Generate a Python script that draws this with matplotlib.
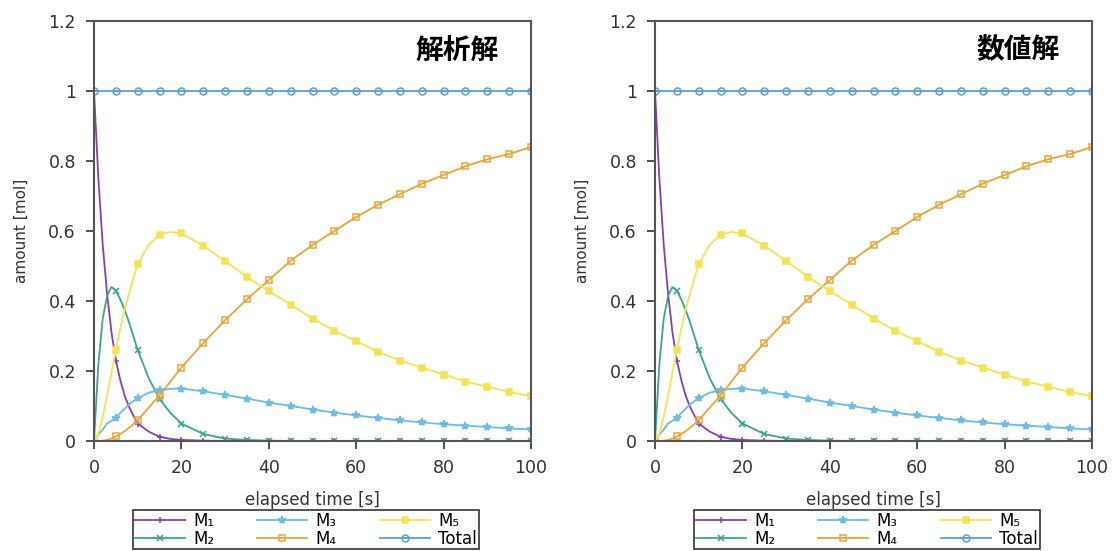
import matplotlib
matplotlib.use('Agg')
import matplotlib.pyplot as plt

# time points for the lines (denser at the start), markers every 5 s
t = [0, 1, 2, 3, 4, 5, 6, 7, 8, 9, 10, 12.5, 15, 17.5, 20, 25, 30, 35, 40, 45, 50,
     55, 60, 65, 70, 75, 80, 85, 90, 95, 100]

m1 = [1.0, 0.75, 0.56, 0.42, 0.31, 0.23, 0.175, 0.13, 0.098, 0.073, 0.05, 0.027, 0.012,
      0.006, 0.003, 0.001, 0, 0, 0, 0, 0, 0, 0, 0, 0, 0, 0, 0, 0, 0, 0]
m2 = [0, 0.22, 0.35, 0.415, 0.44, 0.43, 0.405, 0.375, 0.34, 0.30, 0.26, 0.18, 0.12,
      0.08, 0.05, 0.02, 0.007, 0.003, 0.001, 0, 0, 0, 0, 0, 0, 0, 0, 0, 0, 0, 0]
m3 = [0, 0.018, 0.033, 0.05, 0.058, 0.065, 0.08, 0.092, 0.104, 0.114, 0.122, 0.138, 0.145,
      0.149, 0.15, 0.142, 0.132, 0.121, 0.11, 0.10, 0.09, 0.081, 0.073, 0.066, 0.059,
      0.053, 0.048, 0.044, 0.04, 0.036, 0.033]
m4 = [0, 0, 0.001, 0.003, 0.007, 0.013, 0.02, 0.028, 0.038, 0.048, 0.06, 0.095, 0.13,
      0.17, 0.21, 0.28, 0.345, 0.405, 0.46, 0.515, 0.56, 0.60, 0.64, 0.675, 0.705,
      0.735, 0.76, 0.785, 0.805, 0.82, 0.84]
m5 = [0, 0.02, 0.07, 0.13, 0.195, 0.26, 0.32, 0.375, 0.42, 0.465, 0.505, 0.56, 0.59,
      0.597, 0.593, 0.558, 0.514, 0.469, 0.428, 0.39, 0.35, 0.315, 0.285, 0.255, 0.23,
      0.21, 0.19, 0.17, 0.155, 0.14, 0.128]
total = [1.0] * len(t)

panel_titles = ['解析解', '数値解']
labels = ['M₁', 'M₂', 'M₃', 'M₄', 'M₅', 'Total']
colors = ['#8a3fae', '#3aa886', '#6cbbe8', '#e9a43a', '#f2e255', '#5a9fd2']
markers = ['+', 'x', '*', 's', 's', 'o']
filled = [True, True, True, False, True, False]
series = [m1, m2, m3, m4, m5, total]

every5 = [i for i, v in enumerate(t) if v % 5 == 0]

fig = plt.figure(figsize=(11.14, 5.51), dpi=100)
lefts = [94 / 1114, 655 / 1114]

for left, title in zip(lefts, panel_titles):
    ax = fig.add_axes([left, 110 / 551, 437 / 1114, 420 / 551])
    for y, lab, c, mk, f in zip(series, labels, colors, markers, filled):
        ax.plot(t, y, color=c, lw=1.3, label=lab, marker=mk, markevery=every5,
                markersize=5 if mk != '*' else 6,
                markerfacecolor=c if f else 'none', markeredgecolor=c,
                markeredgewidth=1.1)
    ax.set_xlim(0, 100)
    ax.set_ylim(0, 1.2)
    ax.set_xticks([0, 20, 40, 60, 80, 100])
    ax.set_yticks([0, 0.2, 0.4, 0.6, 0.8, 1.0, 1.2])
    ax.set_yticklabels(['0', '0.2', '0.4', '0.6', '0.8', '1', '1.2'])
    ax.tick_params(direction='out', length=6, width=1.2, labelsize=12.5, pad=7,
                   colors='#333333')
    for s in ax.spines.values():
        s.set_color('#555555')
        s.set_linewidth(1.5)
    ax.set_xlabel('elapsed time [s]', fontsize=12, labelpad=10, color='#333333')
    ax.set_ylabel('amount [mol]', fontsize=11, labelpad=14, color='#333333')
    ax.text(0.83, 0.93, title, transform=ax.transAxes, ha='center', va='center',
            fontsize=20, fontweight='bold', family=['Noto Sans CJK JP', 'DejaVu Sans'])
    leg = ax.legend(loc='upper center', bbox_to_anchor=(0.485, -0.164), ncol=3,
                    fontsize=12, frameon=True, fancybox=False, framealpha=1,
                    handlelength=3.0, columnspacing=2.6, handletextpad=0.5,
                    borderpad=0.1, labelspacing=0.0, borderaxespad=0)
    leg.get_frame().set_edgecolor('#333333')
    leg.get_frame().set_linewidth(1.2)

fig.savefig('out.png', dpi=100)
